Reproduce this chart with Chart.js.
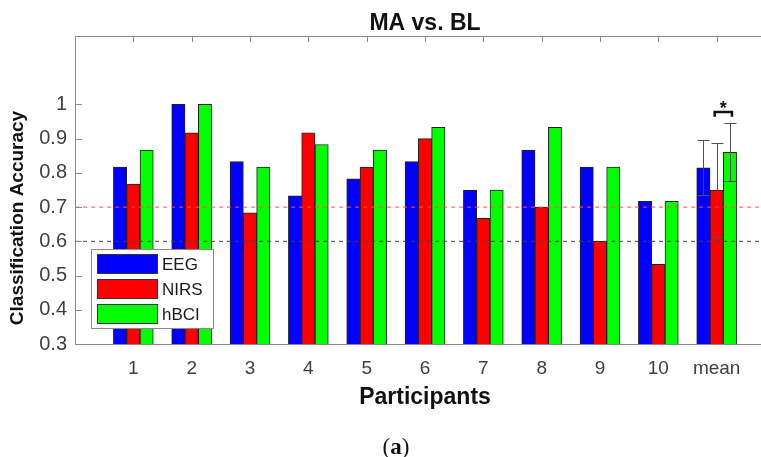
<!DOCTYPE html>
<html><head><meta charset="utf-8">
<script src="https://cdn.jsdelivr.net/npm/chart.js@4"></script>
<style>
html,body{margin:0;padding:0;background:#fff;}
#wrap{position:relative;width:761px;height:457px;overflow:hidden;}
#c{position:absolute;left:0;top:0;}
#cap{position:absolute;left:346px;width:100px;top:434px;text-align:center;font-family:'Liberation Serif','DejaVu Serif',serif;font-size:23px;color:#111;}
</style></head>
<body><div id="wrap"><canvas id="c" width="761" height="457"></canvas><div id="cap">(<b>a</b>)</div></div>
<script>
// ---- data ----
const participants = ['1','2','3','4','5','6','7','8','9','10','mean'];
const eeg  = [0.817, 1.000, 0.833, 0.733, 0.783, 0.833, 0.750, 0.867, 0.817, 0.717, 0.815];
const nirs = [0.767, 0.917, 0.683, 0.917, 0.817, 0.900, 0.667, 0.700, 0.600, 0.533, 0.750];
const hbci = [0.867, 1.000, 0.817, 0.883, 0.867, 0.933, 0.750, 0.933, 0.817, 0.717, 0.860];
const meanStd = [0.081, 0.136, 0.085];          // EEG, NIRS, hBCI std of the mean bars
const yTicks = [0.3, 0.4, 0.5, 0.6, 0.7, 0.8, 0.9, 1];
const chanceLevel = 0.6;
const thresholdLevel = 0.7;
const seriesNames = ['EEG', 'NIRS', 'hBCI'];
const seriesColors = ['#0000ff', '#ff0000', '#00ff00'];

const FONT = "'Liberation Sans', Arial, sans-serif";
const X_MAX = 11.76;

const toPts = arr => arr.map((v, i) => ({x: i + 1, y: v}));

const decor = {
  id: 'decor',
  afterDatasetsDraw(chart) {
    const {ctx, chartArea: a, scales: {x, y}} = chart;
    ctx.save();
    // frame
    ctx.strokeStyle = '#8a8a8a';
    ctx.lineWidth = 1;
    ctx.beginPath();
    ctx.moveTo(a.left + 0.5, a.top + 0.5); ctx.lineTo(a.right, a.top + 0.5);
    ctx.moveTo(a.left + 0.5, a.top); ctx.lineTo(a.left + 0.5, a.bottom + 0.5);
    ctx.moveTo(a.left, a.bottom + 0.5); ctx.lineTo(a.right, a.bottom + 0.5);
    // inward ticks
    x.ticks.forEach(t => { const px = Math.round(x.getPixelForValue(t.value)) + 0.5; ctx.moveTo(px, a.top); ctx.lineTo(px, a.top + 6); });
    y.ticks.forEach(t => { const py = Math.round(y.getPixelForValue(t.value)) + 0.5; ctx.moveTo(a.left, py); ctx.lineTo(a.left + 7, py); });
    ctx.stroke();

    // error bars on the mean group
    const mi = participants.length - 1;
    const vals = [eeg, nirs, hbci];
    const barMetas = chart.data.datasets.map((d, i) => ({d, m: chart.getDatasetMeta(i)})).filter(o => o.d.type !== 'line');
    ctx.strokeStyle = '#505050';
    ctx.lineWidth = 1;
    barMetas.forEach((o, k) => {
      const el = o.m.data[mi];
      const v = vals[k][mi], e = meanStd[k];
      const cx = Math.round(el.x) + 0.5;
      const yt = y.getPixelForValue(v + e), yb = y.getPixelForValue(v - e);
      ctx.beginPath();
      ctx.moveTo(cx, yt); ctx.lineTo(cx, yb);
      ctx.moveTo(cx - 6, Math.round(yt) + 0.5); ctx.lineTo(cx + 6, Math.round(yt) + 0.5);
      ctx.moveTo(cx - 6, Math.round(yb) + 0.5); ctx.lineTo(cx + 6, Math.round(yb) + 0.5);
      ctx.stroke();
    });
    // significance bracket NIRS vs hBCI
    const x1 = barMetas[1].m.data[mi].x - 2, x2 = barMetas[2].m.data[mi].x + 2;
    const by = y.getPixelForValue(0.978), bl = y.getPixelForValue(0.964);
    ctx.strokeStyle = '#111';
    ctx.lineWidth = 2.5;
    ctx.beginPath();
    ctx.moveTo(x1, bl); ctx.lineTo(x1, by); ctx.lineTo(x2, by); ctx.lineTo(x2, bl);
    ctx.stroke();
    ctx.fillStyle = '#111';
    ctx.font = 'bold 18px ' + FONT;
    ctx.textAlign = 'center';
    ctx.textBaseline = 'alphabetic';
    ctx.fillText('*', (x1 + x2) / 2, y.getPixelForValue(1.005) + 11);

    // legend
    const lx = 91, ly = 249, lw = 122, lh = 79;
    ctx.fillStyle = '#fff';
    ctx.fillRect(lx, ly, lw, lh);
    ctx.strokeStyle = '#8a8a8a';
    ctx.lineWidth = 1;
    ctx.strokeRect(lx + 0.5, ly + 0.5, lw, lh);
    ctx.font = '17px ' + FONT;
    ctx.textAlign = 'left';
    ctx.textBaseline = 'middle';
    barMetas.forEach((o, k) => {
      const sy = ly + 5 + k * 25;
      ctx.fillStyle = o.d.backgroundColor;
      ctx.fillRect(lx + 6, sy, 61, 20);
      ctx.strokeStyle = '#333';
      ctx.strokeRect(lx + 6.5, sy + 0.5, 60, 19);
      ctx.fillStyle = '#1a1a1a';
      ctx.fillText(o.d.label, lx + 71, sy + 11);
    });

    // titles
    ctx.fillStyle = '#111';
    ctx.textAlign = 'center';
    ctx.textBaseline = 'middle';
    ctx.font = 'bold 23px ' + FONT;
    ctx.fillText('MA vs. BL', 425, 24);
    ctx.fillText('Participants', 425, 398);
    ctx.translate(18, 218);
    ctx.rotate(-Math.PI / 2);
    ctx.font = 'bold 19px ' + FONT;
    ctx.fillText('Classification Accuracy', 0, 0);
    ctx.restore();
  }
};

const refLine = (val, color) => ({
  type: 'line', label: '_ref', data: [{x: 0, y: val}, {x: X_MAX, y: val}],
  borderColor: color, borderWidth: 1, borderDash: [4, 4], pointRadius: 0, order: -1, fill: false
});

new Chart(document.getElementById('c'), {
  type: 'bar',
  data: {
    datasets: [
      refLine(thresholdLevel, '#ff4d4d'),
      refLine(chanceLevel, '#404040'),
      ...[eeg, nirs, hbci].map((arr, k) => ({
        label: seriesNames[k], data: toPts(arr),
        backgroundColor: seriesColors[k], borderColor: '#222', borderWidth: 1,
        barThickness: 13.3
      }))
    ]
  },
  options: {
    responsive: false,
    animation: false,
    events: [],
    layout: {padding: {top: 36, left: 0, right: 0, bottom: 0}},
    plugins: {legend: {display: false}, tooltip: {enabled: false}, title: {display: false}},
    scales: {
      x: {
        type: 'linear', min: 0, max: X_MAX, offset: false,
        grid: {display: false, drawTicks: false, offset: false}, border: {display: false},
        afterBuildTicks: ax => { ax.ticks = participants.map((_, i) => ({value: i + 1})); },
        afterFit: ax => { ax.height = 113; },
        ticks: {padding: 13, color: '#404040', font: {family: FONT, size: 19}, autoSkip: false, maxRotation: 0,
          callback: v => participants[v - 1] ?? ''}
      },
      y: {
        min: 0.3, max: 1.2,
        grid: {display: false, drawTicks: false}, border: {display: false},
        afterBuildTicks: ax => { ax.ticks = yTicks.map(v => ({value: v})); },
        afterFit: ax => { ax.width = 75; },
        ticks: {padding: 8, color: '#404040', font: {family: FONT, size: 20}, callback: v => String(v)}
      }
    }
  },
  plugins: [decor]
});
</script>
</body></html>
